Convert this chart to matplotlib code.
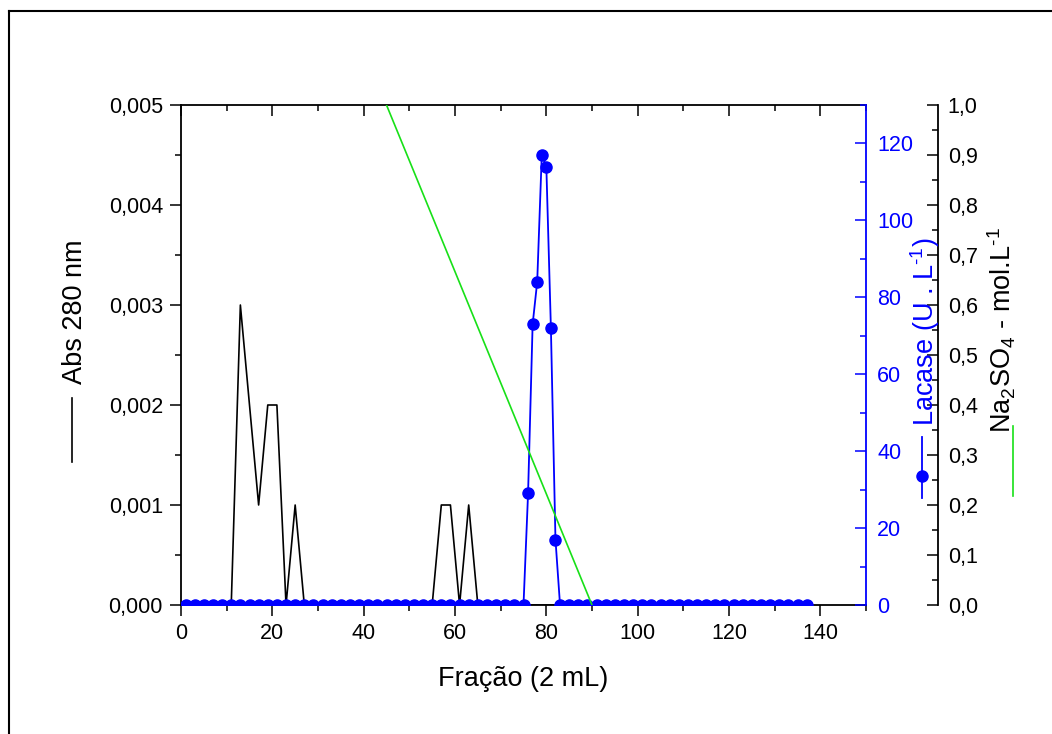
import matplotlib

matplotlib.use("Agg")

import matplotlib.pyplot as plt
from matplotlib.lines import Line2D
from matplotlib.ticker import MultipleLocator, FuncFormatter

plt.rcParams["font.family"] = ["Liberation Sans", "DejaVu Sans"]
plt.rcParams["mathtext.fontset"] = "custom"
plt.rcParams["mathtext.rm"] = "Liberation Sans"
plt.rcParams["mathtext.it"] = "Liberation Sans:italic"

# Abs 280 nm, read at odd fractions 1..137
abs_frac = list(range(1, 138, 2))
abs_280 = [
    0, 0, 0, 0, 0, 0, 0.003, 0.002, 0.001, 0.002,   # 1-19
    0.002, 0, 0.001, 0, 0, 0, 0, 0, 0, 0,           # 21-39
    0, 0, 0, 0, 0, 0, 0, 0, 0.001, 0.001,           # 41-59
    0, 0.001, 0, 0, 0, 0, 0, 0, 0, 0,               # 61-79
    0, 0, 0, 0, 0, 0, 0, 0, 0, 0,                   # 81-99
    0, 0, 0, 0, 0, 0, 0, 0, 0, 0,                   # 101-119
    0, 0, 0, 0, 0, 0, 0, 0, 0,                      # 121-137
]

# Lacase activity (U/L)
lac_frac = list(range(1, 76, 2)) + [76, 77, 78, 79, 80, 81, 82] + list(range(83, 138, 2))
lacase = [
    0, 0, 0, 0, 0, 0, 0, 0, 0, 0,                   # 1-19
    0, 0, 0, 0, 0, 0, 0, 0, 0, 0,                   # 21-39
    0, 0, 0, 0, 0, 0, 0, 0, 0, 0,                   # 41-59
    0, 0, 0, 0, 0, 0, 0, 0,                         # 61-75
    29, 73, 84, 117, 114, 72, 17,                   # 76-82
    0, 0, 0, 0, 0, 0, 0, 0, 0, 0,                   # 83-101
    0, 0, 0, 0, 0, 0, 0, 0, 0, 0,                   # 103-121
    0, 0, 0, 0, 0, 0, 0, 0,                         # 123-137
]

# Na2SO4 gradient
grad_frac = [45, 90]
na2so4 = [1.0, 0.0]

BLUE = "#0000ff"
GREEN = "#18e018"
TICK_FS = 15.5
LABEL_FS = 19.5


def comma(fmt):
    return FuncFormatter(lambda v, _: fmt.format(v).replace(".", ","))


fig = plt.figure(figsize=(10.52, 7.34), dpi=100)
W, H = 1052, 734
ax = fig.add_axes([181 / W, 1 - 605 / H, (866 - 181) / W, (605 - 105) / H])

ax.plot(abs_frac, abs_280, color="black", lw=1.2, zorder=2)
ax.set_xlim(0, 150)
ax.set_ylim(0, 0.005)
ax.xaxis.set_major_locator(MultipleLocator(20))
ax.xaxis.set_minor_locator(MultipleLocator(10))
ax.yaxis.set_major_locator(MultipleLocator(0.001))
ax.yaxis.set_minor_locator(MultipleLocator(0.0005))
ax.yaxis.set_major_formatter(comma("{:.3f}"))
ax.tick_params(axis="both", which="major", direction="out", length=8, width=1.1,
               labelsize=TICK_FS, pad=5)
ax.tick_params(axis="both", which="minor", direction="out", length=4.5, width=1.1)
ax.tick_params(axis="x", which="both", top=True, labeltop=False)
ax.spines["right"].set_visible(False)
for s in ("left", "bottom", "top"):
    ax.spines[s].set_linewidth(1.3)
ax.set_xlabel("Fração (2 mL)", fontsize=LABEL_FS, labelpad=16)

# top axis ticks point inward
for t in ax.xaxis.get_major_ticks() + ax.xaxis.get_minor_ticks():
    t.tick2line.set_marker(3)

ax2 = ax.twinx()
ax2.plot(lac_frac, lacase, color=BLUE, lw=1.3, marker="o", ms=8, zorder=3)
ax2.set_ylim(0, 130)
ax2.yaxis.set_major_locator(MultipleLocator(20))
ax2.yaxis.set_minor_locator(MultipleLocator(10))
for s in ("left", "top", "bottom"):
    ax2.spines[s].set_visible(False)
ax2.spines["right"].set_color(BLUE)
ax2.spines["right"].set_linewidth(1.3)
ax2.tick_params(axis="y", which="major", direction="in", length=8, width=1.1,
                colors=BLUE, labelsize=TICK_FS, pad=8)
ax2.tick_params(axis="y", which="minor", direction="in", length=4.5, width=1.1,
                colors=BLUE)

ax3 = ax.twinx()
ax3.plot(grad_frac, na2so4, color=GREEN, lw=1.2, zorder=4)
ax3.set_ylim(0, 1.0)
ax3.spines["right"].set_position(("axes", (938 - 181) / (866 - 181)))
for s in ("left", "top", "bottom"):
    ax3.spines[s].set_visible(False)
ax3.spines["right"].set_linewidth(1.3)
ax3.yaxis.set_major_locator(MultipleLocator(0.1))
ax3.yaxis.set_minor_locator(MultipleLocator(0.05))
ax3.yaxis.set_major_formatter(comma("{:.1f}"))
ax3.tick_params(axis="y", which="major", direction="in", length=8, width=1.1,
                labelsize=TICK_FS, pad=7)
ax3.tick_params(axis="y", which="minor", direction="in", length=4.5, width=1.1)

# axis titles with legend symbols
fig.text(75 / W, 1 - 312 / H, "Abs 280 nm", rotation=90, ha="center", va="center",
         fontsize=LABEL_FS)
fig.add_artist(Line2D([72 / W, 72 / W], [1 - 398 / H, 1 - 462 / H], color="black",
                      lw=1.2, transform=fig.transFigure))

fig.text(925 / W, 1 - 332 / H, r"Lacase (U . L$^{\text{-1}}$)", rotation=90,
         ha="center", va="center", fontsize=LABEL_FS, color=BLUE)
fig.add_artist(Line2D([922 / W, 922 / W], [1 - 437 / H, 1 - 498 / H], color=BLUE,
                      lw=1.3, transform=fig.transFigure))
fig.add_artist(Line2D([922 / W], [1 - 476 / H], color=BLUE, marker="o", ms=8,
                      transform=fig.transFigure))

fig.text(1002 / W, 1 - 330 / H, r"Na$_2$SO$_4$ - mol.L$^{\text{-1}}$", rotation=90,
         ha="center", va="center", fontsize=LABEL_FS)
fig.add_artist(Line2D([1013 / W, 1013 / W], [1 - 426 / H, 1 - 496 / H], color=GREEN,
                      lw=1.2, transform=fig.transFigure))

# page frame
fig.add_artist(Line2D([9 / W, 1], [1 - 10.5 / H, 1 - 10.5 / H], color="black", lw=1.5,
                      transform=fig.transFigure))
fig.add_artist(Line2D([9 / W, 9 / W], [1 - 10.5 / H, 0], color="black", lw=1.5,
                      transform=fig.transFigure))

fig.savefig("out.png", dpi=100)
